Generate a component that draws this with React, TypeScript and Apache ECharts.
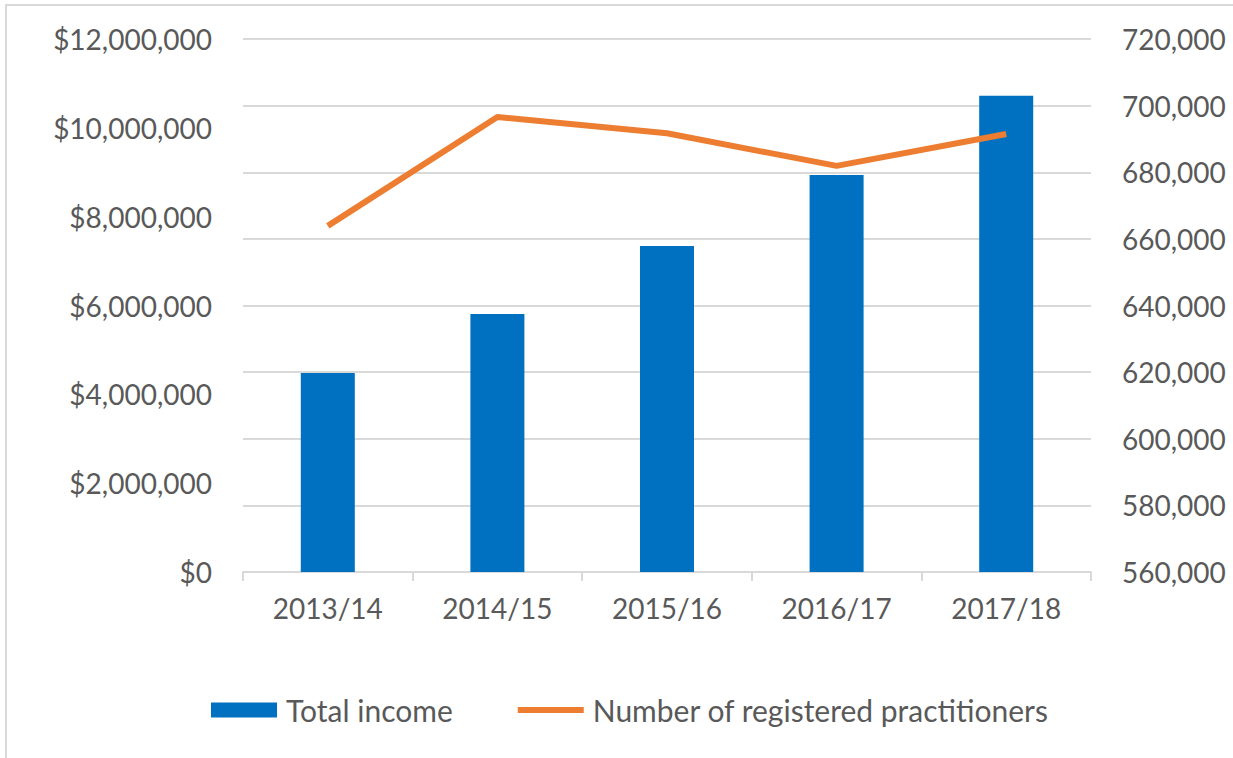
import React, { useEffect, useRef } from "react";
import * as echarts from "echarts";

const categories = ["2013/14", "2014/15", "2015/16", "2016/17", "2017/18"];
const totalIncome = [4480000, 5810000, 7340000, 8940000, 10720000];
const practitioners = [663900, 696600, 691700, 681900, 691500];

const FONT = "Lato";
const TEXT = "#595959";
const GRID = "#d9d9d9";

export default function App() {
  const ref = useRef<HTMLDivElement>(null);
  useEffect(() => {
    document.body.style.margin = "0";
    const chart = echarts.init(ref.current!, null, { renderer: "svg" });
    chart.setOption({
      animation: false,
      backgroundColor: "#ffffff",
      textStyle: { fontFamily: FONT },
      graphic: [
        {
          type: "rect",
          shape: { x: 6, y: 5, width: 1400, height: 900 },
          style: { fill: "none", stroke: GRID, lineWidth: 2 },
          silent: true,
          z: -1,
        },
      ],
      grid: { left: 243, right: 142, top: 39, bottom: 186 },
      legend: {
        bottom: 33,
        left: 211,
        padding: 0,
        itemWidth: 66,
        itemHeight: 15,
        itemGap: 62,
        textStyle: { fontFamily: FONT, fontSize: 30, color: TEXT, padding: [0, 0, 0, 4] },
        data: [
          { name: "Total income", icon: "rect" },
          {
            name: "Number of registered practitioners",
            lineStyle: { width: 6, color: "#ED7D31" },
            itemStyle: { color: "transparent", opacity: 0, borderWidth: 0 },
          },
        ],
      },
      xAxis: {
        type: "category",
        data: categories,
        axisLine: { lineStyle: { color: GRID, width: 2 } },
        axisTick: { show: true, length: 9, lineStyle: { color: GRID, width: 2 } },
        axisLabel: { fontSize: 28, color: TEXT, margin: 22, fontFamily: FONT },
      },
      yAxis: [
        {
          type: "value",
          min: 0,
          max: 12000000,
          interval: 2000000,
          axisLine: { show: false },
          axisTick: { show: false },
          splitLine: { show: false },
          axisLabel: {
            fontSize: 28,
            color: TEXT,
            margin: 31,
            fontFamily: FONT,
            formatter: (v: number) => "$" + v.toLocaleString("en-US"),
          },
        },
        {
          type: "value",
          min: 560000,
          max: 720000,
          interval: 20000,
          axisLine: { show: false },
          axisTick: { show: false },
          splitLine: { show: true, lineStyle: { color: GRID, width: 2 } },
          axisLabel: {
            fontSize: 28,
            color: TEXT,
            margin: 31,
            fontFamily: FONT,
            formatter: (v: number) => v.toLocaleString("en-US"),
          },
        },
      ],
      series: [
        {
          name: "Total income",
          type: "bar",
          data: totalIncome,
          yAxisIndex: 0,
          barWidth: 54,
          itemStyle: { color: "#0070C0" },
        },
        {
          name: "Number of registered practitioners",
          type: "line",
          data: practitioners,
          yAxisIndex: 1,
          symbol: "none",
          lineStyle: { color: "#ED7D31", width: 6 },
          itemStyle: { color: "#ED7D31" },
          z: 3,
        },
      ],
    });
    return () => chart.dispose();
  }, []);
  return <div ref={ref} style={{ width: 1233, height: 758 }} />;
}
